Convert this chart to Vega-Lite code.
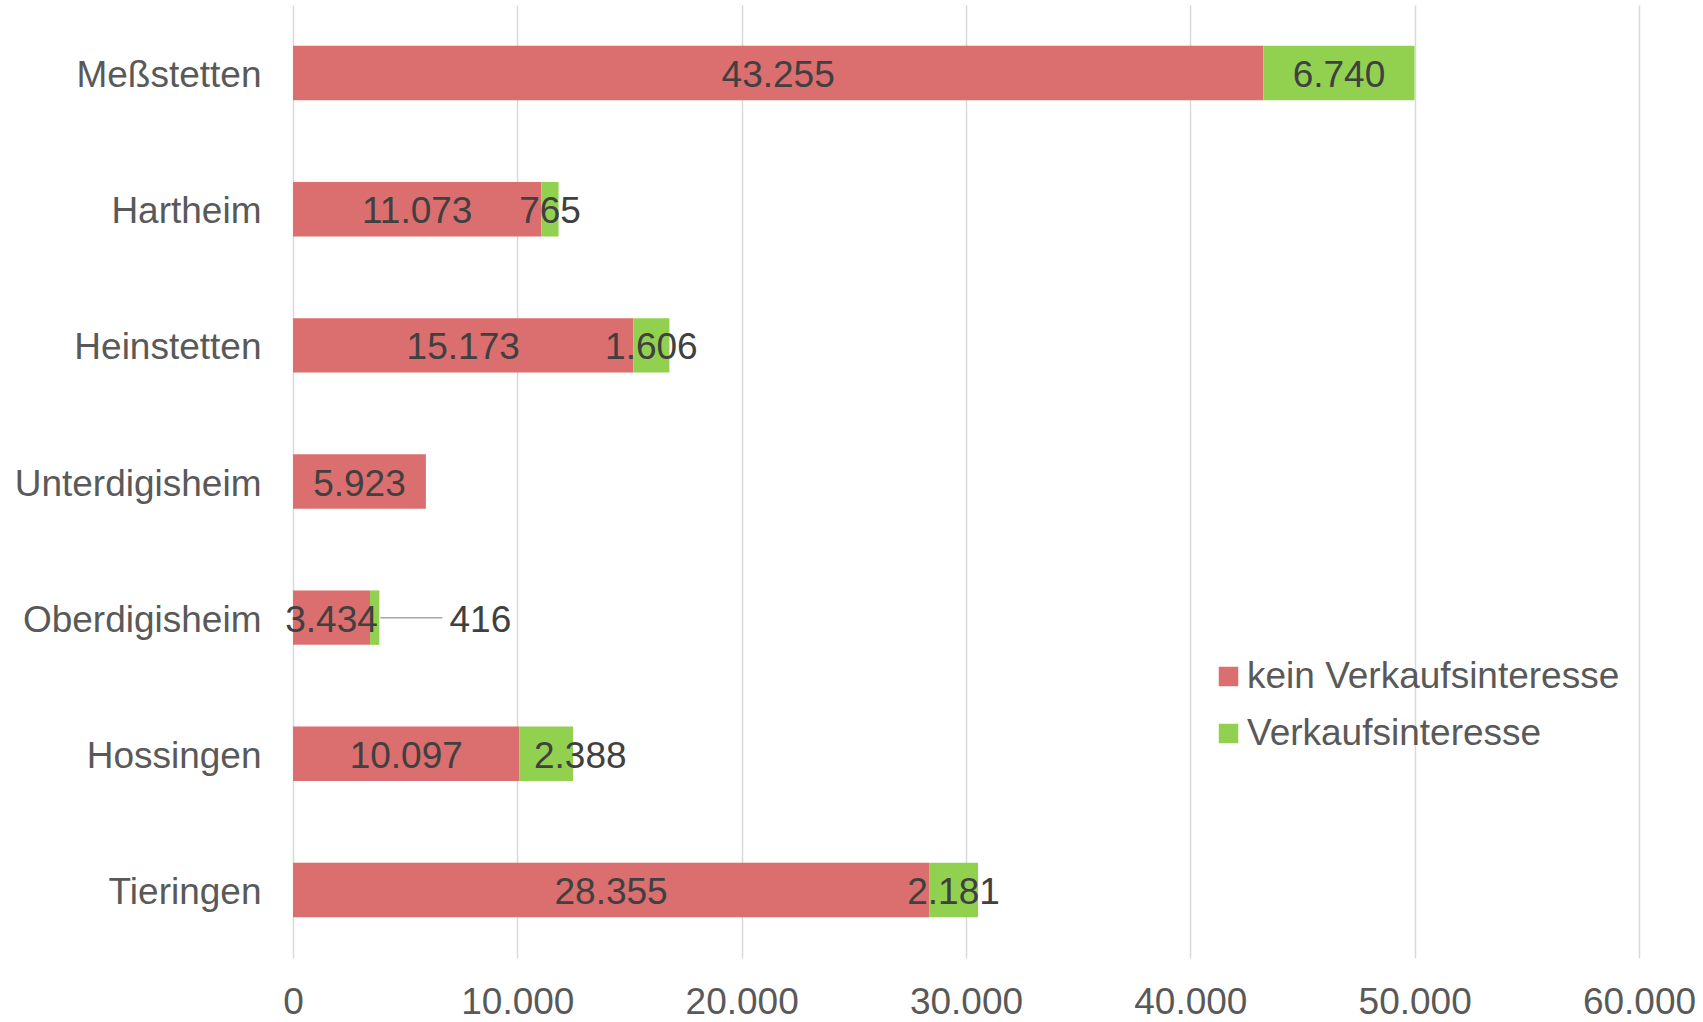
{
  "$schema": "https://vega.github.io/schema/vega-lite/v6.json",
  "width": 1346,
  "height": 953,
  "autosize": {"type": "none"},
  "padding": {"left": 293, "top": 5, "right": 64, "bottom": 64},
  "background": "white",
  "config": {
    "locale": {"number": {"decimal": ",", "thousands": ".", "grouping": [3], "currency": ["", " €"]}},
    "font": "Liberation Sans",
    "view": {"stroke": null}
  },
  "data": {
    "values": [
      {"ort": "Meßstetten", "kategorie": "kein Verkaufsinteresse", "wert": 43255},
      {"ort": "Meßstetten", "kategorie": "Verkaufsinteresse", "wert": 6740},
      {"ort": "Hartheim", "kategorie": "kein Verkaufsinteresse", "wert": 11073},
      {"ort": "Hartheim", "kategorie": "Verkaufsinteresse", "wert": 765},
      {"ort": "Heinstetten", "kategorie": "kein Verkaufsinteresse", "wert": 15173},
      {"ort": "Heinstetten", "kategorie": "Verkaufsinteresse", "wert": 1606},
      {"ort": "Unterdigisheim", "kategorie": "kein Verkaufsinteresse", "wert": 5923},
      {"ort": "Oberdigisheim", "kategorie": "kein Verkaufsinteresse", "wert": 3434},
      {"ort": "Oberdigisheim", "kategorie": "Verkaufsinteresse", "wert": 416},
      {"ort": "Hossingen", "kategorie": "kein Verkaufsinteresse", "wert": 10097},
      {"ort": "Hossingen", "kategorie": "Verkaufsinteresse", "wert": 2388},
      {"ort": "Tieringen", "kategorie": "kein Verkaufsinteresse", "wert": 28355},
      {"ort": "Tieringen", "kategorie": "Verkaufsinteresse", "wert": 2181}
    ]
  },
  "transform": [
    {"stack": "wert", "groupby": ["ort"], "sort": [{"field": "kategorie", "order": "descending"}], "as": ["x0", "x1"]}
  ],
  "encoding": {
    "y": {
      "field": "ort",
      "type": "nominal",
      "sort": ["Meßstetten", "Hartheim", "Heinstetten", "Unterdigisheim", "Oberdigisheim", "Hossingen", "Tieringen"],
      "scale": {"paddingInner": 0.6, "paddingOuter": 0.3},
      "axis": {"title": null, "domain": false, "ticks": false, "grid": false, "labelFontSize": 37, "labelColor": "#595959", "labelPadding": 32, "labelLimit": 0, "labelOffset": 3}
    }
  },
  "layer": [
    {
      "mark": {"type": "bar"},
      "encoding": {
        "x": {
          "field": "x0",
          "type": "quantitative",
          "scale": {"domain": [0, 60000], "nice": false},
          "axis": {"title": null, "format": ",d", "values": [0, 10000, 20000, 30000, 40000, 50000, 60000], "grid": true, "gridColor": "#D9D9D9", "gridWidth": 1.5, "domain": false, "ticks": false, "labelFontSize": 37, "labelColor": "#595959", "labelPadding": 26, "labelFlush": false, "labelOverlap": false}
        },
        "x2": {"field": "x1"},
        "color": {
          "field": "kategorie",
          "type": "nominal",
          "scale": {"domain": ["kein Verkaufsinteresse", "Verkaufsinteresse"], "range": ["#DB6E6E", "#92D050"]},
          "legend": {"title": null, "orient": "none", "legendX": 917, "legendY": 653, "padding": 0, "symbolType": "square", "symbolSize": 380, "symbolStrokeWidth": 0, "labelFontSize": 37, "labelColor": "#595959", "labelOffset": 0, "labelLimit": 0, "rowPadding": 19}
        }
      }
    },
    {
      "transform": [
        {"filter": "!((datum.ort == 'Oberdigisheim' || datum.ort == 'Hossingen') && datum.kategorie == 'Verkaufsinteresse')"},
        {"fold": ["x0", "x1"], "as": ["rand", "pos"]},
        {"aggregate": [{"op": "mean", "field": "pos", "as": "mitte"}], "groupby": ["ort", "kategorie", "wert"]}
      ],
      "mark": {"type": "text", "fontSize": 37, "color": "#404040", "align": "center", "baseline": "middle", "dy": 3},
      "encoding": {
        "x": {"field": "mitte", "type": "quantitative"},
        "text": {"field": "wert", "type": "quantitative", "format": ",d"}
      }
    },
    {
      "transform": [
        {"filter": "datum.ort == 'Hossingen' && datum.kategorie == 'Verkaufsinteresse'"},
        {"fold": ["x0", "x1"], "as": ["rand", "pos"]},
        {"aggregate": [{"op": "mean", "field": "pos", "as": "mitte"}], "groupby": ["ort", "kategorie", "wert"]}
      ],
      "mark": {"type": "text", "fontSize": 37, "color": "#404040", "align": "center", "baseline": "middle", "dy": 3, "dx": 34},
      "encoding": {
        "x": {"field": "mitte", "type": "quantitative"},
        "text": {"field": "wert", "type": "quantitative", "format": ",d"}
      }
    },
    {
      "transform": [{"filter": "datum.ort == 'Oberdigisheim' && datum.kategorie == 'Verkaufsinteresse'"}],
      "mark": {"type": "rule", "color": "#A6A6A6", "strokeWidth": 1.5, "xOffset": 1, "x2Offset": 63},
      "encoding": {
        "x": {"field": "x1", "type": "quantitative"},
        "x2": {"field": "x1"}
      }
    },
    {
      "transform": [{"filter": "datum.ort == 'Oberdigisheim' && datum.kategorie == 'Verkaufsinteresse'"}],
      "mark": {"type": "text", "fontSize": 37, "color": "#404040", "align": "center", "baseline": "middle", "dx": 101, "dy": 3},
      "encoding": {
        "x": {"field": "x1", "type": "quantitative"},
        "text": {"field": "wert", "type": "quantitative", "format": ",d"}
      }
    }
  ]
}
